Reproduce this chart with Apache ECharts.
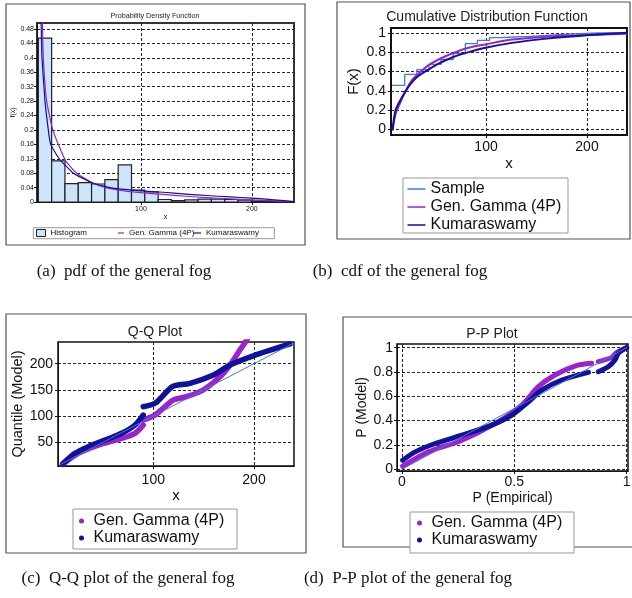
<!DOCTYPE html>
<html><head><meta charset="utf-8">
<script src="https://cdn.jsdelivr.net/npm/echarts@6/dist/echarts.min.js"></script>
<style>html,body{margin:0;padding:0;background:#fff}#c{width:632px;height:598px}</style>
</head><body><div id="c"></div>
<script>
// ---------- data ----------
const labels = {hist: 'Histogram', sample: 'Sample', gg: 'Gen. Gamma (4P)', kum: 'Kumaraswamy'};
const titles = ['Probability Density Function', 'Cumulative Distribution Function', 'Q-Q Plot', 'P-P Plot'];
const captions = ['(a)\u2002pdf of the general fog', '(b)\u2002cdf of the general fog', '(c)\u2002Q-Q plot of the general fog', '(d)\u2002P-P plot of the general fog'];

// (a) histogram
const histEdges = [7.5, 19.5, 31.5, 43.5, 55.5, 67.5, 79.5, 91.5, 103.5, 115.5, 127.5, 139.5, 151.5, 163.5, 175.5, 187.5, 199.5, 211.5, 223.5, 235.5];
const histValues = [0.455, 0.114, 0.051, 0.054, 0.050, 0.062, 0.103, 0.033, 0.028, 0.007, 0.004, 0.006, 0.008, 0.008, 0.007, 0.005, 0.003, 0.002, 0.001];
// (a) pdf curves
const ggPdfX = [11.2, 12, 15, 20.5, 25.5, 32, 42, 55, 68.5, 85, 100, 120, 140, 160, 180, 200, 220, 238];
const ggPdfY = [0.50, 0.40, 0.28, 0.20, 0.16, 0.115, 0.08, 0.055, 0.04, 0.031, 0.026, 0.021, 0.016, 0.012, 0.009, 0.006, 0.003, 0.001];
const kumPdfX = [10, 10.8, 13.5, 16.5, 18.6, 26.4, 39, 55, 72, 85, 100, 120, 140, 160, 180, 200, 220, 238];
const kumPdfY = [0.50, 0.40, 0.28, 0.20, 0.16, 0.12, 0.08, 0.055, 0.04, 0.035, 0.031, 0.027, 0.022, 0.018, 0.014, 0.011, 0.006, 0.001];
// (b) cdf curves
const cdfX = [7.5, 10.2, 13.5, 20, 26.7, 33.3, 43.2, 53, 66.3, 82.8, 99.3, 125.7, 160, 200, 239];
const ggCdfY = [0, 0.15, 0.24, 0.39, 0.51, 0.58, 0.665, 0.724, 0.786, 0.845, 0.88, 0.93, 0.96, 0.978, 0.99];
const kumCdfY = [0, 0.19, 0.27, 0.39, 0.49, 0.555, 0.62, 0.68, 0.745, 0.80, 0.845, 0.896, 0.94, 0.975, 1.0];
// (c) Q-Q (null = gap)
const ggQQX = [10, 25.5, 45.4, 68.6, 81.8, 90, null, 90, 101.7, 111.6, 119.9, 133, 149.5, 166.2, 176.2, 186, 192.7, 196];
const ggQQY = [8, 29, 44.8, 57.6, 67.2, 83, null, 92.6, 102, 118, 130.7, 137, 149.8, 175, 197.5, 226, 245, 255];
const kumQQX = [10, 22.2, 35.4, 52, 68.6, 81.8, 90, null, 90, 101.7, 114.9, 119.9, 136.5, 159.7, 176.2, 199.3, 235.7];
const kumQQY = [8.6, 29, 41.6, 54.4, 67.2, 83, 102, null, 118, 124.4, 149.8, 157.4, 162.6, 178.4, 197.5, 215, 237.6];
const qqRef = [7.5, 239];
// (d) P-P
const ggPPX = [0.003, 0.118, 0.267, 0.415, 0.533, 0.607, 0.681, 0.77, 0.844, null, 0.874, 0.933, 0.955, 1.0];
const ggPPY = [0.025, 0.143, 0.239, 0.377, 0.528, 0.679, 0.775, 0.849, 0.871, null, 0.885, 0.92, 0.959, 1.0];
const kumPPX = [0.003, 0.059, 0.148, 0.267, 0.4, 0.489, 0.563, 0.622, 0.711, 0.83, null, 0.874, 0.918, 0.948, 0.963, 1.0];
const kumPPY = [0.074, 0.143, 0.212, 0.28, 0.363, 0.445, 0.555, 0.651, 0.734, 0.797, null, 0.802, 0.843, 0.899, 0.954, 1.0];
const ppRef = [0, 1];

// tick labels
const pdfYTicks = [0, 0.04, 0.08, 0.12, 0.16, 0.2, 0.24, 0.28, 0.32, 0.36, 0.4, 0.44, 0.48];
const xTicks100 = [100, 200];
const probTicks = [0, 0.2, 0.4, 0.6, 0.8, 1];
const qqYTicks = [50, 100, 150, 200];
const ppXTicks = [0, 0.5, 1];

// ---------- helpers ----------
const PURPLE = '#9b22cc', DBLUE = '#10119c', LBLUE = '#3b7dd8';
const FONT = 'Liberation Sans';
const pairs = (xs, ys) => xs.map((x, i) => x === null ? ['-', '-'] : [x, ys[i]]);
let cum = 0;
const sampleData = histValues.map((v, i) => { cum += v; return [histEdges[i], +cum.toFixed(3)]; });
sampleData.push([histEdges[histEdges.length - 1], sampleData[sampleData.length - 1][1]]);

function axis(gi, min, max, ticks, fs, margin, name, nameGap, nameFs, isY) {
  return {
    type: 'value', gridIndex: gi, min, max,
    name, nameLocation: 'middle', nameGap, nameRotate: isY ? 90 : 0,
    nameTextStyle: {fontSize: nameFs, color: '#111', fontFamily: FONT},
    axisLine: {show: true, onZero: false, lineStyle: {color: '#111', width: 1}},
    axisTick: {show: true, length: 3, customValues: ticks, lineStyle: {color: '#111'}},
    axisLabel: {customValues: ticks, fontSize: fs, color: '#111', margin, fontFamily: FONT},
    splitLine: {show: true, lineStyle: {color: '#222', type: [3, 2], width: 1}}
  };
}
const fmt = n => labels[n.split('_')[0]];

const boxes = [
  [6, 4, 299, 241], [337, 2, 293, 237], [6, 314, 300, 239], [343, 317, 292, 230]
];
const legendBoxes = [
  [33.3, 227.7, 241, 11], [403, 178, 165, 55], [73, 509, 164, 40], [410, 512, 164, 41]
];
const graphics = [];
boxes.forEach(b => graphics.push({type: 'rect', shape: {x: b[0], y: b[1], width: b[2], height: b[3]}, style: {fill: null, stroke: '#555', lineWidth: 1.2}, z: -10}));
legendBoxes.forEach(b => graphics.push({type: 'rect', shape: {x: b[0], y: b[1], width: b[2], height: b[3]}, style: {fill: '#fff', stroke: '#999', lineWidth: 1}, z: -5}));
const titlePos = [[155, 16, 7.2], [487, 17, 14], [155, 332, 14], [492, 334, 14]];
titlePos.forEach((p, i) => graphics.push({type: 'text', style: {x: p[0], y: p[1], text: titles[i], font: p[2] + 'px "' + FONT + '"', fill: '#222', textAlign: 'center', textVerticalAlign: 'middle'}}));
const capPos = [[124, 272], [400, 272], [128, 579], [408, 579]];
capPos.forEach((p, i) => graphics.push({type: 'text', style: {x: p[0], y: p[1], text: captions[i], font: '17px "Liberation Serif"', fill: '#111', textAlign: 'center', textVerticalAlign: 'middle'}}));

const lineS = (name, gi, data, color, width, z, extra) => Object.assign({
  name, type: 'line', xAxisIndex: gi, yAxisIndex: gi, data, smooth: 0.3,
  connectNulls: false, showSymbol: false, color, lineStyle: {width, color, cap: 'round', join: 'round'}, z
}, extra || {});

const option = {
  animation: false,
  backgroundColor: '#fff',
  graphic: graphics,
  grid: [
    {left: 37, top: 23, width: 257, height: 179, show: true, borderColor: '#333', borderWidth: 2, backgroundColor: '#fff', outerBoundsMode: 'none', containLabel: false},
    {left: 391, top: 28, width: 236, height: 107, show: true, borderColor: '#111', borderWidth: 2, backgroundColor: '#fff', outerBoundsMode: 'none', containLabel: false},
    {left: 58, top: 342, width: 236, height: 124, show: true, borderColor: '#111', borderWidth: 1.5, backgroundColor: '#fff', outerBoundsMode: 'none', containLabel: false},
    {left: 397, top: 344, width: 231, height: 127, show: true, borderColor: '#111', borderWidth: 1.5, backgroundColor: '#fff', outerBoundsMode: 'none', containLabel: false}
  ],
  xAxis: [
    axis(0, 6.3, 238, xTicks100, 7, 4, 'x', 12, 7, false),
    axis(1, 5.9, 239.6, xTicks100, 14, 5, 'x', 21, 15, false),
    axis(2, 5.4, 239.7, xTicks100, 14, 7, 'x', 21, 15, false),
    axis(3, -0.022, 1.006, ppXTicks, 14, 4, 'P (Empirical)', 20, 14, false)
  ],
  yAxis: [
    axis(0, 0, 0.497, pdfYTicks, 7, 3, 'f(x)', 3, 7, true),
    axis(1, -0.058, 1.05, probTicks, 14, 5, 'F(x)', 30, 15, true),
    axis(2, 4.8, 241.4, qqYTicks, 14, 5, 'Quantile (Model)', 27, 14.5, true),
    axis(3, -0.014, 1.03, probTicks, 14, 4, 'P (Model)', 28, 14, true)
  ],
  legend: [
    {data: [{name: 'hist', icon: 'rect', itemStyle: {color: '#cde5fa', borderColor: '#222', borderWidth: 1}}], left: 36, top: 229, itemWidth: 9, itemHeight: 7, padding: 0, formatter: fmt, selectedMode: false, textStyle: {fontSize: 8, lineHeight: 8, color: '#111', fontFamily: FONT}},
    {data: [{name: 'gg_a', icon: 'rect'}], left: 118, top: 229, itemWidth: 6, itemHeight: 1.2, padding: 0, formatter: fmt, selectedMode: false, textStyle: {fontSize: 8, lineHeight: 8, color: '#111', fontFamily: FONT}},
    {data: [{name: 'kum_a', icon: 'rect'}], left: 193, top: 229, itemWidth: 8, itemHeight: 1.2, padding: 0, formatter: fmt, selectedMode: false, textStyle: {fontSize: 8, lineHeight: 8, color: '#111', fontFamily: FONT}},
    {data: [{name: 'sample_b', icon: 'rect'}, {name: 'gg_b', icon: 'rect'}, {name: 'kum_b', icon: 'rect'}], orient: 'vertical', left: 407.5, top: 181, itemGap: 2, itemWidth: 18, itemHeight: 1.5, padding: 0, formatter: fmt, selectedMode: false, textStyle: {fontSize: 16, lineHeight: 16, color: '#111', fontFamily: FONT}},
    {data: [{name: 'gg_c', icon: 'circle'}, {name: 'kum_c', icon: 'circle'}], orient: 'vertical', left: 79, top: 513, itemGap: 1, itemWidth: 14, itemHeight: 5, padding: 0, formatter: fmt, selectedMode: false, textStyle: {fontSize: 16, lineHeight: 16, color: '#111', fontFamily: FONT}},
    {data: [{name: 'gg_d', icon: 'circle'}, {name: 'kum_d', icon: 'circle'}], orient: 'vertical', left: 417, top: 515, itemGap: 1, itemWidth: 14, itemHeight: 5, padding: 0, formatter: fmt, selectedMode: false, textStyle: {fontSize: 16, lineHeight: 16, color: '#111', fontFamily: FONT}}
  ],
  series: [
    {
      name: 'hist', type: 'custom', xAxisIndex: 0, yAxisIndex: 0,
      itemStyle: {color: '#cde5fa'},
      data: histValues.map((v, i) => [histEdges[i], histEdges[i + 1], v]),
      encode: {x: [0, 1], y: 2},
      renderItem: function (params, api) {
        const p0 = api.coord([api.value(0), 0]);
        const p1 = api.coord([api.value(1), api.value(2)]);
        return {type: 'rect', shape: {x: p0[0], y: p1[1], width: p1[0] - p0[0], height: p0[1] - p1[1]},
          style: {fill: '#cde5fa', stroke: '#222', lineWidth: 1.2}};
      }
    },
    lineS('gg_a', 0, pairs(ggPdfX, ggPdfY), PURPLE, 1.2, 3, {smooth: 0.15}),
    lineS('kum_a', 0, pairs(kumPdfX, kumPdfY), DBLUE, 1.2, 3, {smooth: 0.15}),

    lineS('sample_b', 1, sampleData, LBLUE, 1.3, 2, {step: 'end', smooth: false}),
    lineS('gg_b', 1, pairs(cdfX, ggCdfY), PURPLE, 2, 3),
    lineS('kum_b', 1, pairs(cdfX, kumCdfY), DBLUE, 2, 4),

    lineS('ref_c', 2, pairs(qqRef, qqRef), LBLUE, 1, 5, {smooth: false}),
    lineS('gg_c', 2, pairs(ggQQX, ggQQY), PURPLE, 5.5, 3),
    lineS('kum_c', 2, pairs(kumQQX, kumQQY), DBLUE, 5.5, 4),

    lineS('ref_d', 3, pairs(ppRef, ppRef), LBLUE, 1, 5, {smooth: false}),
    lineS('gg_d', 3, pairs(ggPPX, ggPPY), PURPLE, 5, 3),
    lineS('kum_d', 3, pairs(kumPPX, kumPPY), DBLUE, 5, 4)
  ]
};
const chart = echarts.init(document.getElementById('c'), null, {renderer: 'canvas'});
chart.setOption(option);
</script>
</body></html>
